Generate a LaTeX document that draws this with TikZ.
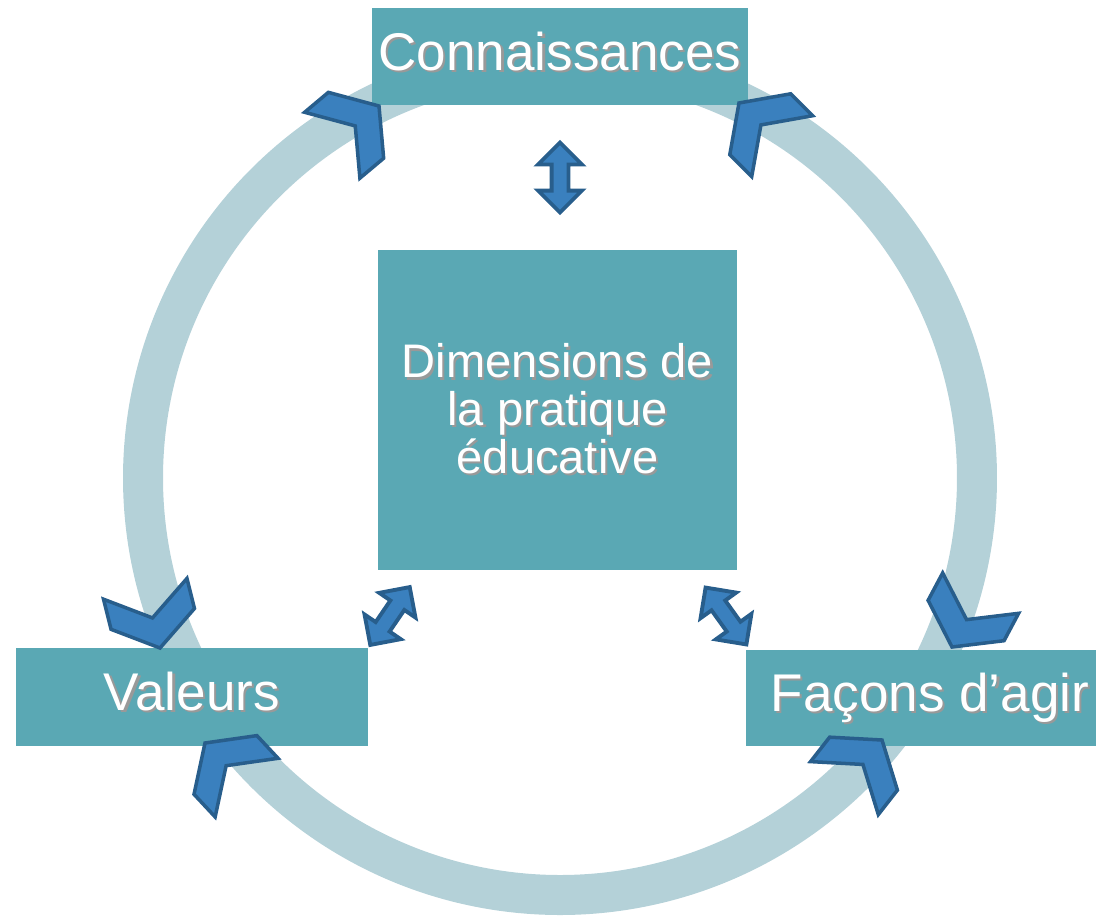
\documentclass[tikz,border=0pt]{standalone}
\usepackage{fontspec}
\setmainfont{Liberation Sans}
\usetikzlibrary{shapes.arrows}

\definecolor{boxteal}{HTML}{5AA8B4}
\definecolor{ringblue}{HTML}{B4D1D8}
\definecolor{chevfill}{HTML}{3A80BE}
\definecolor{chevline}{HTML}{285E8C}

\newcommand{\shadowtext}[1]{\leavevmode\rlap{\hspace{0.6pt}\raisebox{-0.6pt}{\color{black!40}#1}}#1}

\tikzset{
  box/.style={fill=boxteal, text=white, inner sep=0pt},
  boxfont/.style={font=\fontsize{15.1}{17}\selectfont, text height=0.40cm, text depth=0.13cm},
  ring/.style={draw=ringblue, line width=0.40cm},
  chevron/.style={fill=chevfill, draw=chevline, line width=1pt},
  bidir/.style={double arrow, fill=chevfill, draw=chevline, line width=1.1pt, inner sep=0.065cm,
    double arrow head extend=0.135cm, minimum height=0.70cm}
}

\begin{document}
\begin{tikzpicture}
  \useasboundingbox (0,0) rectangle (10.96,-9.17);
  \coordinate (c) at (5.60,-4.78);

  % Draw the ring between the boxes
  \draw[ring] ([shift={(206:4.17)}]c) arc[start angle=206, end angle=110, radius=4.17];
  \draw[ring] ([shift={(70:4.17)}]c) arc[start angle=70, end angle=-26, radius=4.17];
  \draw[ring] ([shift={(-35:4.17)}]c) arc[start angle=-35, end angle=-145, radius=4.17];

  % Draw the boxes
  \node[box, boxfont, minimum width=3.76cm, minimum height=0.97cm] (conn) at (5.60,-0.565) {\shadowtext{Connaissances}};
  \node[box, minimum width=3.59cm, minimum height=3.20cm, align=center,
        font=\fontsize{13.4}{13.6}\selectfont] (dim) at (5.575,-4.10)
        {\shadowtext{Dimensions de}\\\shadowtext{la pratique}\\\shadowtext{éducative}};
  \node[box, boxfont, minimum width=3.52cm, minimum height=0.98cm] (val) at (1.92,-6.97) {\shadowtext{Valeurs}};
  \node[box, boxfont, minimum width=3.50cm, minimum height=0.96cm] (fac) at (9.21,-6.98) {\hspace*{0.18cm}\shadowtext{Façons d’agir}};

  % Draw the chevrons on the ring
  \foreach \x/\y/\a in {3.79/-1.06/40, 7.39/-1.03/135, 1.60/-6.48/-76,
                        9.52/-6.47/-118, 2.05/-7.43/133, 8.82/-7.40/52}
    \draw[chevron, shift={(\x,\y)}, rotate=\a] (0,0) -- (-0.30,0.43) -- (-0.61,0.43) -- (-0.31,0)
      -- (-0.61,-0.43) -- (-0.30,-0.43) -- cycle;

  % Draw the double arrows to the centre box
  \path (conn.south) -- node[bidir, sloped] {} (conn.south |- dim.north);
  \path ([shift={(0.32,-0.17)}]dim.south west) -- node[bidir, sloped] {} ([shift={(0.02,0.03)}]val.north east);
  \path ([shift={(-0.32,-0.17)}]dim.south east) -- node[bidir, sloped] {} ([shift={(0.01,0.05)}]fac.north west);
\end{tikzpicture}
\end{document}
